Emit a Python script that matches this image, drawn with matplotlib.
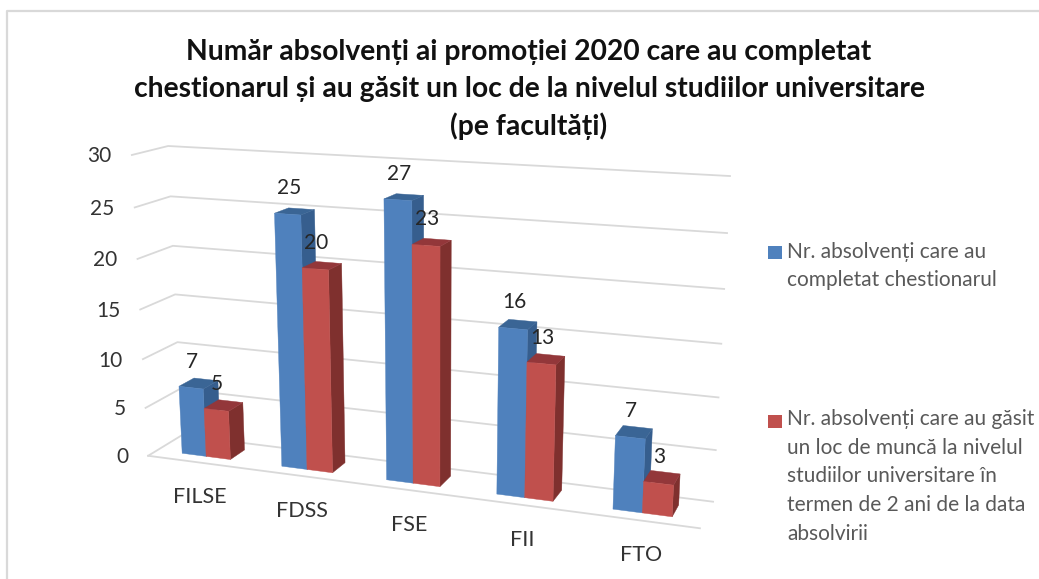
import numpy as np
import matplotlib
matplotlib.use('Agg')
import matplotlib.pyplot as plt
from matplotlib.patches import Polygon, Rectangle

plt.rcParams['font.family'] = ['Lato', 'DejaVu Sans']

# data
categories = ['FILSE', 'FDSS', 'FSE', 'FII', 'FTO']
completed = [7, 25, 27, 16, 7]
found_job = [5, 20, 23, 13, 3]
y_ticks = [0, 5, 10, 15, 20, 25, 30]
title_lines = ['Număr absolvenți ai promoției 2020 care au completat',
               'chestionarul și au găsit un loc de la nivelul studiilor universitare',
               '(pe facultăți)']
legend_completed = 'Nr. absolvenți care au\ncompletat chestionarul'
legend_found = ('Nr. absolvenți care au găsit\nun loc de muncă la nivelul\n'
                'studiilor universitare în\ntermen de 2 ani de la data\nabsolvirii')

BLUE = ('#4F81BD', '#3A6595', '#365E8E')
RED = ('#C0504D', '#93373A', '#7F302E')
GRID = '#D9D9D9'

# 3d chart box (category, depth, value) -> image pixels, fitted on the box corners
box = [(0, 0, 0, 148, 456), (5, 0, 0, 700, 528), (0, 1, 0, 182, 435), (5, 1, 0, 713, 502),
       (0, 0, 30, 132, 155), (0, 1, 30, 168, 146), (5, 1, 30, 730, 176)]
rows, rhs = [], []
for cx, cd, cv, px, py in box:
    rows.append([cx, cd, cv, 1, 0, 0, 0, 0, -px * cx, -px * cd, -px * cv])
    rows.append([0, 0, 0, 0, cx, cd, cv, 1, -py * cx, -py * cd, -py * cv])
    rhs += [px, py]
h = np.linalg.lstsq(np.array(rows, float), np.array(rhs, float), rcond=None)[0]


def project(x, d, v):
    w = h[8] * x + h[9] * d + h[10] * v + 1
    return (h[0] * x + h[1] * d + h[2] * v + h[3]) / w, (h[4] * x + h[5] * d + h[6] * v + h[7]) / w


def draw_bar(ax, x0, x1, value, colors):
    d0, d1 = 0.27, 0.72
    front, top, side = colors
    ax.add_patch(Polygon([project(x1, d0, 0), project(x1, d1, 0), project(x1, d1, value), project(x1, d0, value)],
                         fc=side, ec=side, lw=0.3, zorder=3))
    ax.add_patch(Polygon([project(x0, d0, value), project(x1, d0, value), project(x1, d1, value), project(x0, d1, value)],
                         fc=top, ec=top, lw=0.3, zorder=3))
    ax.add_patch(Polygon([project(x0, d0, 0), project(x1, d0, 0), project(x1, d0, value), project(x0, d0, value)],
                         fc=front, ec=front, lw=0.3, zorder=3))


fig = plt.figure(figsize=(10.39, 5.79), dpi=100)
ax = fig.add_axes([0, 0, 1, 1])
ax.set_xlim(0, 1039)
ax.set_ylim(579, 0)
ax.axis('off')

# frame of the screenshot
ax.plot([7, 7, 1039], [579, 11, 11], color='#D9D9D9', lw=1.6)

# walls and floor
for v in y_ticks:
    pts = [project(0, 0, v), project(0, 1, v), project(5, 1, v)]
    ax.plot(*zip(*pts), color=GRID, lw=1.3, zorder=1)
    xp, yp = project(0, 0, v)
    ax.text(xp - 20, yp + 1.5, str(v), ha='right', va='center', fontsize=15, color='#333333')
ax.plot(*zip(project(0, 0, 0), project(5, 0, 0)), color=GRID, lw=1.3, zorder=1)

width = 0.245
gap = 0.5 - width
for i, cat in enumerate(categories):
    x0 = i + gap
    draw_bar(ax, x0, x0 + width, completed[i], BLUE)
    draw_bar(ax, x0 + width, x0 + 2 * width, found_job[i], RED)
    xp, yp = project(x0 + width / 2, 0.27, completed[i])
    ax.text(xp + 1, yp - 26, str(completed[i]), ha='center', va='center', fontsize=15, color='#262626', zorder=5)
    xp, yp = project(x0 + 1.5 * width, 0.27, found_job[i])
    ax.text(xp + 1, yp - 26, str(found_job[i]), ha='center', va='center', fontsize=15, color='#262626', zorder=5)
    xp, yp = project(i + 0.5, 0, 0)
    ax.text(xp + 3, yp + 35, cat, ha='center', va='center', fontsize=15.5, color='#333333')

for line, y in zip(title_lines, [60, 97, 135]):
    ax.text(529, y, line, ha='center', va='baseline', fontsize=20.3, fontweight='bold', color='#111111')

# legend
ax.add_patch(Rectangle((768, 246), 14, 13, fc=BLUE[0]))
ax.add_patch(Rectangle((768, 415), 14, 13, fc=RED[0]))
ax.text(787, 266, legend_completed, ha='left', va='center', fontsize=15, color='#595959', linespacing=1.55)
ax.text(787, 476.5, legend_found, ha='left', va='center', fontsize=15, color='#595959', linespacing=1.55)

fig.savefig('out.png', dpi=100)
